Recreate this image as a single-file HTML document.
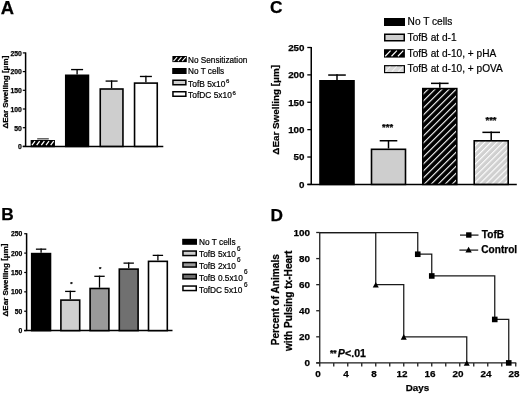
<!DOCTYPE html><html><head><meta charset="utf-8"><style>html,body{margin:0;padding:0;background:#fff;width:520px;height:395px;overflow:hidden}svg{display:block;will-change:transform}text{font-family:"Liberation Sans", sans-serif;fill:#000}</style></head><body>
<svg width="520" height="395" viewBox="0 0 520 395">
<defs>
<pattern id="hA" patternUnits="userSpaceOnUse" width="3.4" height="3.4" patternTransform="translate(0,0) rotate(45)"><rect width="3.4" height="3.4" fill="#000"/><rect x="0" y="0" width="1.25" height="3.4" fill="#fff"/></pattern>
<pattern id="hAl" patternUnits="userSpaceOnUse" width="3.1" height="3.1" patternTransform="translate(0,0) rotate(45)"><rect width="3.1" height="3.1" fill="#000"/><rect x="0" y="0" width="1.2" height="3.1" fill="#fff"/></pattern>
<pattern id="hC" patternUnits="userSpaceOnUse" width="4.95" height="4.95" patternTransform="translate(-1.5,0) rotate(45)"><rect width="4.95" height="4.95" fill="#000"/><rect x="0" y="0" width="1.1" height="4.95" fill="#fff"/></pattern>
<pattern id="hC2" patternUnits="userSpaceOnUse" width="4.3" height="4.3" patternTransform="translate(0,0) rotate(45)"><rect width="4.3" height="4.3" fill="#d0d0d0"/><rect x="0" y="0" width="1.1" height="4.3" fill="#fff"/></pattern>
</defs>
<rect width="520" height="395" fill="#fff"/>
<text x="0.85" y="13.60" font-size="18.4" font-weight="bold" text-anchor="start" stroke="#000" stroke-width="0.25" >A</text>
<line x1="25.6" y1="52.40" x2="25.6" y2="146.4" stroke="#000" stroke-width="1.5"/>
<line x1="22.8" y1="146.4" x2="163.3" y2="146.4" stroke="#000" stroke-width="1.5"/>
<line x1="22.8" y1="146.40" x2="25.6" y2="146.40" stroke="#000" stroke-width="1.2"/>
<text x="21.90" y="149.20" font-size="6.8" font-weight="bold" text-anchor="end" stroke="#000" stroke-width="0.25" >0</text>
<line x1="22.8" y1="127.70" x2="25.6" y2="127.70" stroke="#000" stroke-width="1.2"/>
<text x="21.90" y="130.50" font-size="6.8" font-weight="bold" text-anchor="end" stroke="#000" stroke-width="0.25" >50</text>
<line x1="22.8" y1="109.00" x2="25.6" y2="109.00" stroke="#000" stroke-width="1.2"/>
<text x="21.90" y="111.80" font-size="6.8" font-weight="bold" text-anchor="end" stroke="#000" stroke-width="0.25" >100</text>
<line x1="22.8" y1="90.30" x2="25.6" y2="90.30" stroke="#000" stroke-width="1.2"/>
<text x="21.90" y="93.10" font-size="6.8" font-weight="bold" text-anchor="end" stroke="#000" stroke-width="0.25" >150</text>
<line x1="22.8" y1="71.60" x2="25.6" y2="71.60" stroke="#000" stroke-width="1.2"/>
<text x="21.90" y="74.40" font-size="6.8" font-weight="bold" text-anchor="end" stroke="#000" stroke-width="0.25" >200</text>
<line x1="22.8" y1="52.90" x2="25.6" y2="52.90" stroke="#000" stroke-width="1.2"/>
<text x="21.90" y="55.70" font-size="6.8" font-weight="bold" text-anchor="end" stroke="#000" stroke-width="0.25" >250</text>
<text x="0.00" y="0.00" font-size="8.0" font-weight="bold" text-anchor="middle" stroke="#000" stroke-width="0.25" transform="translate(8.0,92.15) rotate(-90)">ΔEar Swelling <tspan dy="-1.2">[</tspan><tspan dy="1.2">μm</tspan><tspan dy="-1.2">]</tspan></text>
<line x1="37.2" y1="138.8" x2="48.8" y2="138.8" stroke="#555" stroke-width="1.4"/>
<rect x="31.45" y="140.80" width="22.70" height="5.60" fill="#000" stroke="#000" stroke-width="1.6"/>
<line x1="77.10" y1="74.50" x2="77.10" y2="68.90" stroke="#000" stroke-width="1.35"/><line x1="71.10" y1="69.58" x2="83.10" y2="69.58" stroke="#000" stroke-width="1.35"/>
<rect x="65.75" y="75.30" width="22.70" height="71.10" fill="#000" stroke="#000" stroke-width="1.6"/>
<line x1="111.60" y1="88.20" x2="111.60" y2="80.40" stroke="#000" stroke-width="1.35"/><line x1="105.60" y1="81.08" x2="117.60" y2="81.08" stroke="#000" stroke-width="1.35"/>
<rect x="100.25" y="89.00" width="22.70" height="57.40" fill="#cecece" stroke="#000" stroke-width="1.6"/>
<line x1="145.90" y1="82.30" x2="145.90" y2="75.80" stroke="#000" stroke-width="1.35"/><line x1="139.90" y1="76.47" x2="151.90" y2="76.47" stroke="#000" stroke-width="1.35"/>
<rect x="134.55" y="83.10" width="22.70" height="63.30" fill="#fff" stroke="#000" stroke-width="1.6"/>
<line x1="32.00" y1="145.20" x2="35.00" y2="141.20" stroke="#fff" stroke-width="1.3" stroke-opacity="1"/><line x1="36.67" y1="145.20" x2="39.67" y2="141.20" stroke="#fff" stroke-width="1.3" stroke-opacity="1"/><line x1="41.34" y1="145.20" x2="44.34" y2="141.20" stroke="#fff" stroke-width="1.3" stroke-opacity="1"/><line x1="46.01" y1="145.20" x2="49.01" y2="141.20" stroke="#fff" stroke-width="1.3" stroke-opacity="1"/><line x1="50.68" y1="145.20" x2="53.68" y2="141.20" stroke="#fff" stroke-width="1.3" stroke-opacity="1"/>
<rect x="172.4" y="56.0" width="14.4" height="6.1" fill="#000"/>
<line x1="173.50" y1="61.05" x2="177.10" y2="57.05" stroke="#fff" stroke-width="1.05" stroke-opacity="1"/><line x1="177.90" y1="61.05" x2="181.50" y2="57.05" stroke="#fff" stroke-width="1.05" stroke-opacity="1"/><line x1="182.20" y1="61.05" x2="185.80" y2="57.05" stroke="#fff" stroke-width="1.05" stroke-opacity="1"/>
<text x="188.10" y="62.70" font-size="8.2" font-weight="normal" text-anchor="start" stroke="#000" stroke-width="0.2" >No Sensitization</text>
<rect x="172.95" y="68.75" width="12.9" height="4.5" fill="#000" stroke="#000" stroke-width="1.5"/>
<text x="188.10" y="74.00" font-size="8.2" font-weight="normal" text-anchor="start" stroke="#000" stroke-width="0.2" >No T cells</text>
<rect x="172.95" y="80.25" width="12.9" height="4.5" fill="#cecece" stroke="#000" stroke-width="1.5"/>
<text x="188.10" y="86.70" font-size="8.4" font-weight="normal" text-anchor="start" stroke="#000" stroke-width="0.2" >TofB 5x10<tspan font-size="6.0" dx="0.6" dy="-3.4">6</tspan></text>
<rect x="172.95" y="91.75" width="12.9" height="4.5" fill="#fff" stroke="#000" stroke-width="1.5"/>
<text x="188.10" y="98.10" font-size="8.4" font-weight="normal" text-anchor="start" stroke="#000" stroke-width="0.2" >TofDC 5x10<tspan font-size="6.0" dx="0.6" dy="-3.4">6</tspan></text>
<text x="1.30" y="220.40" font-size="17.3" font-weight="bold" text-anchor="start" stroke="#000" stroke-width="0.25" >B</text>
<line x1="26.6" y1="233.23" x2="26.6" y2="330.6" stroke="#000" stroke-width="1.5"/>
<line x1="24.2" y1="330.6" x2="172.5" y2="330.6" stroke="#000" stroke-width="1.5"/>
<line x1="24.2" y1="330.60" x2="26.6" y2="330.60" stroke="#000" stroke-width="1.2"/>
<text x="22.30" y="333.10" font-size="6.8" font-weight="bold" text-anchor="end" stroke="#000" stroke-width="0.25" >0</text>
<line x1="24.2" y1="311.23" x2="26.6" y2="311.23" stroke="#000" stroke-width="1.2"/>
<text x="22.30" y="313.73" font-size="6.8" font-weight="bold" text-anchor="end" stroke="#000" stroke-width="0.25" >50</text>
<line x1="24.2" y1="291.85" x2="26.6" y2="291.85" stroke="#000" stroke-width="1.2"/>
<text x="22.30" y="294.35" font-size="6.8" font-weight="bold" text-anchor="end" stroke="#000" stroke-width="0.25" >100</text>
<line x1="24.2" y1="272.48" x2="26.6" y2="272.48" stroke="#000" stroke-width="1.2"/>
<text x="22.30" y="274.98" font-size="6.8" font-weight="bold" text-anchor="end" stroke="#000" stroke-width="0.25" >150</text>
<line x1="24.2" y1="253.10" x2="26.6" y2="253.10" stroke="#000" stroke-width="1.2"/>
<text x="22.30" y="255.60" font-size="6.8" font-weight="bold" text-anchor="end" stroke="#000" stroke-width="0.25" >200</text>
<line x1="24.2" y1="233.73" x2="26.6" y2="233.73" stroke="#000" stroke-width="1.2"/>
<text x="22.30" y="236.23" font-size="6.8" font-weight="bold" text-anchor="end" stroke="#000" stroke-width="0.25" >250</text>
<text x="0.00" y="0.00" font-size="8.0" font-weight="bold" text-anchor="middle" stroke="#000" stroke-width="0.25" transform="translate(7.6,279.95) rotate(-90)">ΔEar Swelling <tspan dy="-1.2">[</tspan><tspan dy="1.2">μm</tspan><tspan dy="-1.2">]</tspan></text>
<line x1="41.10" y1="252.80" x2="41.10" y2="248.53" stroke="#000" stroke-width="1.3"/><line x1="35.90" y1="249.18" x2="46.30" y2="249.18" stroke="#000" stroke-width="1.3"/>
<rect x="31.70" y="253.60" width="18.80" height="77.00" fill="#000" stroke="#000" stroke-width="1.6"/>
<line x1="70.30" y1="299.30" x2="70.30" y2="290.76" stroke="#000" stroke-width="1.3"/><line x1="65.10" y1="291.41" x2="75.50" y2="291.41" stroke="#000" stroke-width="1.3"/>
<rect x="60.90" y="300.10" width="18.80" height="30.50" fill="#cfcfcf" stroke="#000" stroke-width="1.6"/>
<line x1="99.50" y1="287.68" x2="99.50" y2="275.65" stroke="#000" stroke-width="1.3"/><line x1="94.30" y1="276.30" x2="104.70" y2="276.30" stroke="#000" stroke-width="1.3"/>
<rect x="90.10" y="288.48" width="18.80" height="42.13" fill="#9a9a9a" stroke="#000" stroke-width="1.6"/>
<line x1="128.70" y1="268.30" x2="128.70" y2="262.48" stroke="#000" stroke-width="1.3"/><line x1="123.50" y1="263.12" x2="133.90" y2="263.12" stroke="#000" stroke-width="1.3"/>
<rect x="119.30" y="269.10" width="18.80" height="61.50" fill="#707070" stroke="#000" stroke-width="1.6"/>
<line x1="157.90" y1="260.55" x2="157.90" y2="254.73" stroke="#000" stroke-width="1.3"/><line x1="152.70" y1="255.38" x2="163.10" y2="255.38" stroke="#000" stroke-width="1.3"/>
<rect x="148.50" y="261.35" width="18.80" height="69.25" fill="#fff" stroke="#000" stroke-width="1.6"/>
<text x="71.40" y="286.00" font-size="6.0" font-weight="bold" text-anchor="middle" stroke="#000" stroke-width="0.25" >*</text>
<text x="100.20" y="271.00" font-size="6.0" font-weight="bold" text-anchor="middle" stroke="#000" stroke-width="0.25" >*</text>
<rect x="182.95" y="239.55" width="13.3" height="4.5" fill="#000" stroke="#000" stroke-width="1.5"/>
<text x="199.00" y="245.10" font-size="8.3" font-weight="normal" text-anchor="start" stroke="#000" stroke-width="0.2" >No T cells</text>
<rect x="182.95" y="251.05" width="13.3" height="4.5" fill="#cfcfcf" stroke="#000" stroke-width="1.5"/>
<text x="199.00" y="257.00" font-size="8.3" font-weight="normal" text-anchor="start" stroke="#000" stroke-width="0.2" >TofB 5x10</text>
<rect x="182.95" y="262.55" width="13.3" height="4.5" fill="#9a9a9a" stroke="#000" stroke-width="1.5"/>
<text x="199.00" y="268.90" font-size="8.3" font-weight="normal" text-anchor="start" stroke="#000" stroke-width="0.2" >TofB 2x10</text>
<rect x="182.95" y="274.35" width="13.3" height="4.5" fill="#707070" stroke="#000" stroke-width="1.5"/>
<text x="199.00" y="281.00" font-size="8.3" font-weight="normal" text-anchor="start" stroke="#000" stroke-width="0.2" >TofB 0.5x10</text>
<rect x="182.95" y="286.05" width="13.3" height="4.5" fill="#fff" stroke="#000" stroke-width="1.5"/>
<text x="199.00" y="292.80" font-size="8.3" font-weight="normal" text-anchor="start" stroke="#000" stroke-width="0.2" >TofDC 5x10</text>
<text x="237.00" y="250.50" font-size="6.4" font-weight="normal" text-anchor="start" stroke="#000" stroke-width="0.2" >6</text>
<text x="237.00" y="261.80" font-size="6.4" font-weight="normal" text-anchor="start" stroke="#000" stroke-width="0.2" >6</text>
<text x="244.00" y="274.10" font-size="6.4" font-weight="normal" text-anchor="start" stroke="#000" stroke-width="0.2" >6</text>
<text x="244.00" y="286.50" font-size="6.4" font-weight="normal" text-anchor="start" stroke="#000" stroke-width="0.2" >6</text>
<text x="270.00" y="13.30" font-size="17.3" font-weight="bold" text-anchor="start" stroke="#000" stroke-width="0.25" >C</text>
<line x1="311.25" y1="47.00" x2="311.25" y2="184.4" stroke="#000" stroke-width="1.5"/>
<line x1="307.5" y1="184.4" x2="516.8" y2="184.4" stroke="#000" stroke-width="1.5"/>
<line x1="307.3" y1="184.40" x2="311.25" y2="184.40" stroke="#000" stroke-width="1.3"/>
<text x="304.50" y="187.80" font-size="9.8" font-weight="bold" text-anchor="end" stroke="#000" stroke-width="0.25" >0</text>
<line x1="307.3" y1="157.02" x2="311.25" y2="157.02" stroke="#000" stroke-width="1.3"/>
<text x="304.50" y="160.42" font-size="9.8" font-weight="bold" text-anchor="end" stroke="#000" stroke-width="0.25" >50</text>
<line x1="307.3" y1="129.64" x2="311.25" y2="129.64" stroke="#000" stroke-width="1.3"/>
<text x="304.50" y="133.04" font-size="9.8" font-weight="bold" text-anchor="end" stroke="#000" stroke-width="0.25" >100</text>
<line x1="307.3" y1="102.26" x2="311.25" y2="102.26" stroke="#000" stroke-width="1.3"/>
<text x="304.50" y="105.66" font-size="9.8" font-weight="bold" text-anchor="end" stroke="#000" stroke-width="0.25" >150</text>
<line x1="307.3" y1="74.88" x2="311.25" y2="74.88" stroke="#000" stroke-width="1.3"/>
<text x="304.50" y="78.28" font-size="9.8" font-weight="bold" text-anchor="end" stroke="#000" stroke-width="0.25" >200</text>
<line x1="307.3" y1="47.50" x2="311.25" y2="47.50" stroke="#000" stroke-width="1.3"/>
<text x="304.50" y="50.90" font-size="9.8" font-weight="bold" text-anchor="end" stroke="#000" stroke-width="0.25" >250</text>
<text x="0.00" y="0.00" font-size="9.85" font-weight="bold" text-anchor="middle" stroke="#000" stroke-width="0.25" transform="translate(279.2,109.85) rotate(-90)">ΔEar Swelling <tspan dy="-1.2">[</tspan><tspan dy="1.2">μm</tspan><tspan dy="-1.2">]</tspan></text>
<line x1="337.00" y1="80.00" x2="337.00" y2="74.30" stroke="#000" stroke-width="1.5"/><line x1="328.20" y1="75.05" x2="345.80" y2="75.05" stroke="#000" stroke-width="1.5"/>
<rect x="320.00" y="80.80" width="34.00" height="103.60" fill="#000" stroke="#000" stroke-width="1.6"/>
<line x1="388.50" y1="148.50" x2="388.50" y2="140.00" stroke="#000" stroke-width="1.5"/><line x1="379.70" y1="140.75" x2="397.30" y2="140.75" stroke="#000" stroke-width="1.5"/>
<rect x="371.50" y="149.30" width="34.00" height="35.10" fill="#cecece" stroke="#000" stroke-width="1.6"/>
<line x1="439.80" y1="87.80" x2="439.80" y2="82.60" stroke="#000" stroke-width="1.5"/><line x1="431.00" y1="83.35" x2="448.60" y2="83.35" stroke="#000" stroke-width="1.5"/>
<rect x="422.80" y="88.60" width="34.00" height="95.80" fill="url(#hC)" stroke="#000" stroke-width="1.6"/>
<line x1="491.20" y1="140.00" x2="491.20" y2="131.60" stroke="#000" stroke-width="1.5"/><line x1="482.40" y1="132.35" x2="500.00" y2="132.35" stroke="#000" stroke-width="1.5"/>
<rect x="474.20" y="140.80" width="34.00" height="43.60" fill="url(#hC2)" stroke="#000" stroke-width="1.6"/>
<text x="387.60" y="129.60" font-size="9.5" font-weight="bold" text-anchor="middle" stroke="#000" stroke-width="0.25" >***</text>
<text x="491.00" y="123.10" font-size="9.5" font-weight="bold" text-anchor="middle" stroke="#000" stroke-width="0.25" >***</text>
<rect x="384.75" y="18.75" width="19.5" height="6.5" fill="#000" stroke="#000" stroke-width="1.5"/>
<text x="407.60" y="25.40" font-size="10.15" font-weight="normal" text-anchor="start" stroke="#000" stroke-width="0.2" >No T cells</text>
<rect x="384.75" y="34.25" width="19.5" height="6.5" fill="#cecece" stroke="#000" stroke-width="1.5"/>
<text x="407.60" y="41.20" font-size="10.15" font-weight="normal" text-anchor="start" stroke="#000" stroke-width="0.2" >TofB at d-1</text>
<rect x="384.0" y="49.2" width="20.9" height="8.4" fill="#000"/>
<line x1="385.20" y1="56.25" x2="390.60" y2="50.55" stroke="#fff" stroke-width="1.15" stroke-opacity="1"/><line x1="391.50" y1="56.25" x2="396.90" y2="50.55" stroke="#fff" stroke-width="1.15" stroke-opacity="1"/><line x1="397.90" y1="56.25" x2="403.30" y2="50.55" stroke="#fff" stroke-width="1.15" stroke-opacity="1"/>
<text x="407.60" y="56.80" font-size="10.15" font-weight="normal" text-anchor="start" stroke="#000" stroke-width="0.2" >TofB at d-10, + pHA</text>
<rect x="384.6" y="65.7" width="19.8" height="6.9" fill="#d9d9d9" stroke="#000" stroke-width="1.2"/>
<line x1="385.50" y1="71.70" x2="390.30" y2="66.50" stroke="#fff" stroke-width="1.1" stroke-opacity="0.7"/><line x1="391.80" y1="71.70" x2="396.60" y2="66.50" stroke="#fff" stroke-width="1.1" stroke-opacity="0.7"/><line x1="398.20" y1="71.70" x2="403.00" y2="66.50" stroke="#fff" stroke-width="1.1" stroke-opacity="0.7"/>
<text x="407.60" y="72.40" font-size="10.15" font-weight="normal" text-anchor="start" stroke="#000" stroke-width="0.2" >TofB at d-10, + pOVA</text>
<text x="270.60" y="220.60" font-size="17.3" font-weight="bold" text-anchor="start" stroke="#000" stroke-width="0.25" >D</text>
<line x1="319.75" y1="232.50" x2="319.75" y2="362.9" stroke="#1a1a1a" stroke-width="1.25"/>
<line x1="316.2" y1="362.9" x2="516.3" y2="362.9" stroke="#1a1a1a" stroke-width="1.25"/>
<line x1="316.2" y1="362.90" x2="319.75" y2="362.90" stroke="#222" stroke-width="1.3"/>
<text x="309.90" y="366.40" font-size="9.9" font-weight="bold" text-anchor="end" stroke="#000" stroke-width="0.25" >0</text>
<line x1="316.2" y1="336.82" x2="319.75" y2="336.82" stroke="#222" stroke-width="1.3"/>
<text x="309.90" y="340.32" font-size="9.9" font-weight="bold" text-anchor="end" stroke="#000" stroke-width="0.25" >20</text>
<line x1="316.2" y1="310.74" x2="319.75" y2="310.74" stroke="#222" stroke-width="1.3"/>
<text x="309.90" y="314.24" font-size="9.9" font-weight="bold" text-anchor="end" stroke="#000" stroke-width="0.25" >40</text>
<line x1="316.2" y1="284.66" x2="319.75" y2="284.66" stroke="#222" stroke-width="1.3"/>
<text x="309.90" y="288.16" font-size="9.9" font-weight="bold" text-anchor="end" stroke="#000" stroke-width="0.25" >60</text>
<line x1="316.2" y1="258.58" x2="319.75" y2="258.58" stroke="#222" stroke-width="1.3"/>
<text x="309.90" y="262.08" font-size="9.9" font-weight="bold" text-anchor="end" stroke="#000" stroke-width="0.25" >80</text>
<line x1="316.2" y1="232.50" x2="319.75" y2="232.50" stroke="#222" stroke-width="1.3"/>
<text x="309.90" y="236.00" font-size="9.9" font-weight="bold" text-anchor="end" stroke="#000" stroke-width="0.25" >100</text>
<line x1="319.75" y1="362.9" x2="319.75" y2="366.4" stroke="#222" stroke-width="1.3"/>
<line x1="333.75" y1="362.9" x2="333.75" y2="366.4" stroke="#222" stroke-width="1.3"/>
<line x1="347.75" y1="362.9" x2="347.75" y2="366.4" stroke="#222" stroke-width="1.3"/>
<line x1="361.75" y1="362.9" x2="361.75" y2="366.4" stroke="#222" stroke-width="1.3"/>
<line x1="375.75" y1="362.9" x2="375.75" y2="366.4" stroke="#222" stroke-width="1.3"/>
<line x1="389.75" y1="362.9" x2="389.75" y2="366.4" stroke="#222" stroke-width="1.3"/>
<line x1="403.75" y1="362.9" x2="403.75" y2="366.4" stroke="#222" stroke-width="1.3"/>
<line x1="417.75" y1="362.9" x2="417.75" y2="366.4" stroke="#222" stroke-width="1.3"/>
<line x1="431.75" y1="362.9" x2="431.75" y2="366.4" stroke="#222" stroke-width="1.3"/>
<line x1="445.75" y1="362.9" x2="445.75" y2="366.4" stroke="#222" stroke-width="1.3"/>
<line x1="459.75" y1="362.9" x2="459.75" y2="366.4" stroke="#222" stroke-width="1.3"/>
<line x1="473.75" y1="362.9" x2="473.75" y2="366.4" stroke="#222" stroke-width="1.3"/>
<line x1="487.75" y1="362.9" x2="487.75" y2="366.4" stroke="#222" stroke-width="1.3"/>
<line x1="501.75" y1="362.9" x2="501.75" y2="366.4" stroke="#222" stroke-width="1.3"/>
<line x1="515.75" y1="362.9" x2="515.75" y2="366.4" stroke="#222" stroke-width="1.3"/>
<text x="317.95" y="377.40" font-size="9.9" font-weight="bold" text-anchor="middle" stroke="#000" stroke-width="0.25" >0</text>
<text x="345.95" y="377.40" font-size="9.9" font-weight="bold" text-anchor="middle" stroke="#000" stroke-width="0.25" >4</text>
<text x="373.95" y="377.40" font-size="9.9" font-weight="bold" text-anchor="middle" stroke="#000" stroke-width="0.25" >8</text>
<text x="401.95" y="377.40" font-size="9.9" font-weight="bold" text-anchor="middle" stroke="#000" stroke-width="0.25" >12</text>
<text x="429.95" y="377.40" font-size="9.9" font-weight="bold" text-anchor="middle" stroke="#000" stroke-width="0.25" >16</text>
<text x="457.95" y="377.40" font-size="9.9" font-weight="bold" text-anchor="middle" stroke="#000" stroke-width="0.25" >20</text>
<text x="485.95" y="377.40" font-size="9.9" font-weight="bold" text-anchor="middle" stroke="#000" stroke-width="0.25" >24</text>
<text x="513.95" y="377.40" font-size="9.9" font-weight="bold" text-anchor="middle" stroke="#000" stroke-width="0.25" >28</text>
<text x="417.40" y="391.00" font-size="9.8" font-weight="bold" text-anchor="middle" stroke="#000" stroke-width="0.25" >Days</text>
<text x="0.00" y="0.00" font-size="10.1" font-weight="bold" text-anchor="middle" stroke="#000" stroke-width="0.25" transform="translate(279.3,299.7) rotate(-90)">Percent of Animals</text>
<text x="0.00" y="0.00" font-size="10.1" font-weight="bold" text-anchor="middle" stroke="#000" stroke-width="0.25" transform="translate(291.6,300.8) rotate(-90)">with Pulsing tx-Heart</text>
<polyline points="319.75,232.50 375.75,232.50 375.75,284.66 403.75,284.66 403.75,336.82 466.75,336.82 466.75,362.90" fill="none" stroke="#1a1a1a" stroke-width="1.25"/>
<polyline points="319.75,232.50 417.75,232.50 417.75,254.24 431.75,254.24 431.75,275.96 494.75,275.96 494.75,319.44 508.75,319.44 508.75,362.90" fill="none" stroke="#1a1a1a" stroke-width="1.25"/>
<rect x="414.95" y="251.44" width="5.6" height="5.6" fill="#000"/>
<rect x="428.95" y="273.16" width="5.6" height="5.6" fill="#000"/>
<rect x="491.95" y="316.64" width="5.6" height="5.6" fill="#000"/>
<rect x="505.95" y="360.10" width="5.6" height="5.6" fill="#000"/>
<polygon points="372.75,287.56 378.75,287.56 375.75,281.96" fill="#000"/>
<polygon points="400.75,339.72 406.75,339.72 403.75,334.12" fill="#000"/>
<polygon points="463.75,365.80 469.75,365.80 466.75,360.20" fill="#000"/>
<line x1="460" y1="235.1" x2="478.5" y2="235.1" stroke="#1a1a1a" stroke-width="1.25"/>
<rect x="466.10" y="232.30" width="5.4" height="5.4" fill="#000"/>
<text x="481.80" y="237.80" font-size="10.1" font-weight="bold" text-anchor="start" stroke="#000" stroke-width="0.25" >TofB</text>
<line x1="459.4" y1="250.1" x2="478.2" y2="250.1" stroke="#1a1a1a" stroke-width="1.25"/>
<polygon points="465.40,252.40 471.80,252.40 468.60,246.80" fill="#000"/>
<text x="481.30" y="253.10" font-size="10.1" font-weight="bold" text-anchor="start" stroke="#000" stroke-width="0.25" >Control</text>
<text x="330.00" y="356.50" font-size="10.6" font-weight="bold" text-anchor="start" stroke="#000" stroke-width="0.25" ><tspan font-size="8.6" dy="-0.2">**</tspan><tspan font-style="italic" dy="0.2" dx="1.0">P</tspan><tspan dx="0.3">&lt;.01</tspan></text>
</svg></body></html>
